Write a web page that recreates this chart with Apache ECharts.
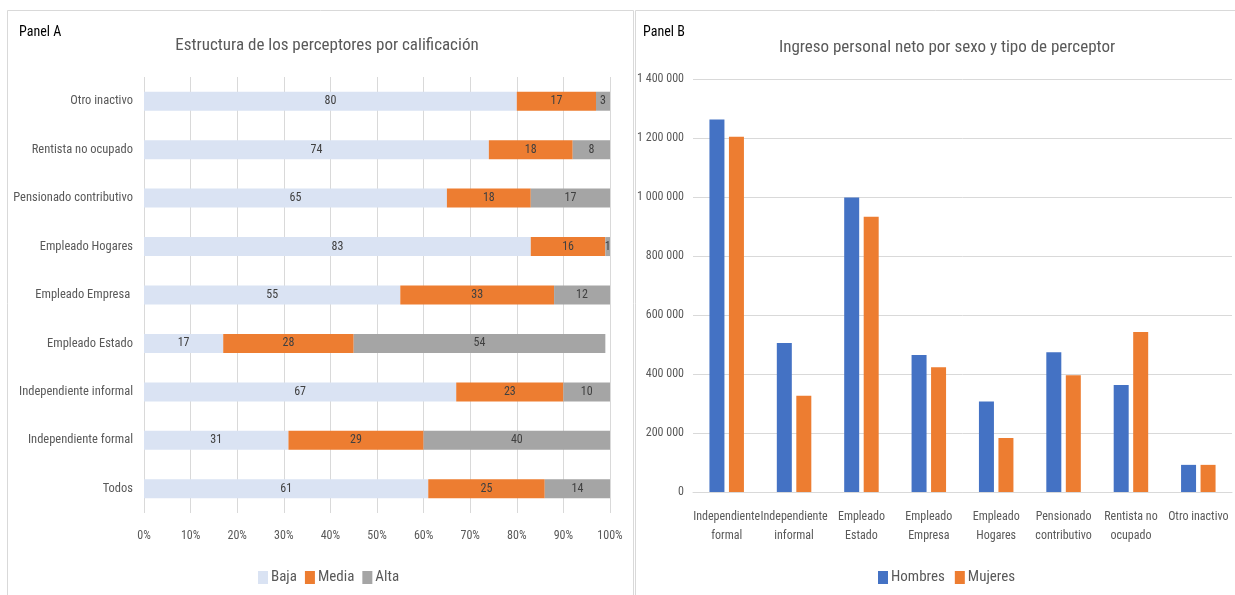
<!DOCTYPE html>
<html>
<head>
<meta charset="utf-8">
<script src="https://cdn.jsdelivr.net/npm/echarts@6/dist/echarts.min.js"></script>
<style>
  html, body { margin: 0; padding: 0; background: #fff; }
  #chart { width: 1235px; height: 595px; }
</style>
</head>
<body>
<div id="chart"></div>
<script>
// Panel A: share of each income-receiver type by qualification level (%)
const perceptorTypes = ['Otro inactivo', 'Rentista no ocupado', 'Pensionado contributivo', 'Empleado Hogares',
  'Empleado Empresa ', 'Empleado Estado', 'Independiente informal', 'Independiente formal', 'Todos'];
const baja  = [80, 74, 65, 83, 55, 17, 67, 31, 61];
const media = [17, 18, 18, 16, 33, 28, 23, 29, 25];
const alta  = [3, 8, 17, 1, 12, 54, 10, 40, 14];

// Panel B: net personal income by sex and receiver type
const incomeCategories = ['Independiente\nformal', 'Independiente\ninformal', 'Empleado\nEstado', 'Empleado\nEmpresa',
  'Empleado\nHogares', 'Pensionado\ncontributivo', 'Rentista no\nocupado', 'Otro inactivo'];
const hombres = [1263000, 505000, 998000, 464000, 307000, 474000, 363000, 92000];
const mujeres = [1204000, 326000, 933000, 423000, 183000, 396000, 542000, 92000];

const FONT = "'Roboto Condensed', 'Liberation Sans Narrow', sans-serif";
const GRAY_TEXT = '#595959';
const GRID_LINE = '#d9d9d9';

function thousands(v) {
  return String(v).replace(/\B(?=(\d{3})+(?!\d))/g, ' ');
}

const chart = echarts.init(document.getElementById('chart'), null, { renderer: 'canvas' });

const stackLabel = {
  show: true, position: 'inside', color: '#404040', fontFamily: FONT, fontSize: 12, padding: [2, 0, 0, 0]
};

chart.setOption({
  backgroundColor: '#ffffff',
  animation: false,
  textStyle: { fontFamily: FONT },
  graphic: [
    { type: 'rect', shape: { x: 7.5, y: 10.5, width: 626, height: 600 },
      style: { fill: 'none', stroke: GRID_LINE, lineWidth: 1 }, z: -1 },
    { type: 'rect', shape: { x: 635.5, y: 10.5, width: 610, height: 600 },
      style: { fill: 'none', stroke: GRID_LINE, lineWidth: 1 }, z: -1 },
    { type: 'text', left: 19, top: 25,
      style: { text: 'Panel A', fontFamily: FONT, fontSize: 14, fill: '#000' } },
    { type: 'text', left: 643, top: 25,
      style: { text: 'Panel B', fontFamily: FONT, fontSize: 14, fill: '#000' } }
  ],
  title: [
    { text: 'Estructura de los perceptores por calificación', left: 322, top: 32, textAlign: 'center',
      textStyle: { fontFamily: FONT, fontSize: 17, fontWeight: 'normal', color: GRAY_TEXT } },
    { text: 'Ingreso personal neto por sexo y tipo de perceptor', left: 942, top: 34, textAlign: 'center',
      textStyle: { fontFamily: FONT, fontSize: 17, fontWeight: 'normal', color: GRAY_TEXT } }
  ],
  legend: [
    { data: ['Baja', 'Media', 'Alta'], left: 253, top: 565, itemWidth: 10, itemHeight: 13, itemGap: 8,
      icon: 'rect', textStyle: { fontFamily: FONT, fontSize: 15, color: GRAY_TEXT, padding: [0, 0, 0, -2] } },
    { data: ['Hombres', 'Mujeres'], left: 873, top: 565, itemWidth: 10, itemHeight: 13, itemGap: 10,
      icon: 'rect', textStyle: { fontFamily: FONT, fontSize: 15, color: GRAY_TEXT, padding: [0, 0, 0, -2] } }
  ],
  grid: [
    { left: 144, right: 625, top: 77, bottom: 82, outerBoundsMode: 'none' },
    { left: 693, right: 3, top: 79, bottom: 103, outerBoundsMode: 'none' }
  ],
  xAxis: [
    { type: 'value', gridIndex: 0, min: 0, max: 100, interval: 10,
      axisLine: { show: false }, axisTick: { show: false },
      splitLine: { lineStyle: { color: GRID_LINE } },
      axisLabel: { formatter: '{value}%', color: GRAY_TEXT, fontSize: 12, margin: 17 } },
    { type: 'category', gridIndex: 1, data: incomeCategories,
      axisLine: { lineStyle: { color: GRID_LINE } }, axisTick: { show: false },
      axisLabel: { color: GRAY_TEXT, fontSize: 12, lineHeight: 19, margin: 15, interval: 0 } }
  ],
  yAxis: [
    { type: 'category', gridIndex: 0, data: perceptorTypes, inverse: true,
      axisLine: { show: false }, axisTick: { show: false },
      axisLabel: { color: GRAY_TEXT, fontSize: 12.5, margin: 11, padding: [3, 0, 0, 0] } },
    { type: 'value', gridIndex: 1, min: 0, max: 1400000, interval: 200000,
      axisLine: { show: false }, axisTick: { show: false },
      splitLine: { lineStyle: { color: GRID_LINE, width: 1 } },
      axisLabel: { color: GRAY_TEXT, fontSize: 12, margin: 9, formatter: thousands } }
  ],
  series: [
    { name: 'Baja', type: 'bar', stack: 'a', xAxisIndex: 0, yAxisIndex: 0, data: baja,
      barWidth: 19, itemStyle: { color: '#dae3f3' }, label: stackLabel },
    { name: 'Media', type: 'bar', stack: 'a', xAxisIndex: 0, yAxisIndex: 0, data: media,
      barWidth: 19, itemStyle: { color: '#ed7d31' }, label: stackLabel },
    { name: 'Alta', type: 'bar', stack: 'a', xAxisIndex: 0, yAxisIndex: 0, data: alta,
      barWidth: 19, itemStyle: { color: '#a5a5a5' }, label: stackLabel },
    { name: 'Hombres', type: 'bar', xAxisIndex: 1, yAxisIndex: 1, data: hombres,
      barWidth: 15, barGap: '30%', itemStyle: { color: '#4472c4' } },
    { name: 'Mujeres', type: 'bar', xAxisIndex: 1, yAxisIndex: 1, data: mujeres,
      barWidth: 15, barGap: '30%', itemStyle: { color: '#ed7d31' } }
  ]
});
</script>
</body>
</html>
